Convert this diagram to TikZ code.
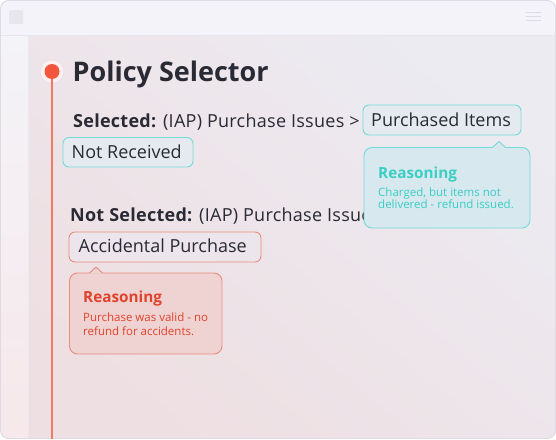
\documentclass[tikz,border=0pt]{standalone}
\usepackage{fontspec}
\setmainfont{Open Sans}
\usetikzlibrary{shadings}
\definecolor{frame}{HTML}{DCDBE6}
\definecolor{topbar}{HTML}{F4F3F9}
\definecolor{bodytop}{HTML}{ECEBF2}
\definecolor{bodybot}{HTML}{EEDFE2}
\definecolor{side}{HTML}{F4F3F8}
\definecolor{sidebot}{HTML}{F6E8EB}
\definecolor{ink}{HTML}{2A2A35}
\definecolor{dotred}{HTML}{F4553D}
\definecolor{tlred}{HTML}{F07A66}
\definecolor{tealb}{HTML}{74DAD8}
\definecolor{tealt}{HTML}{3ACEC5}
\definecolor{tealf}{HTML}{D7E8EE}
\definecolor{redb}{HTML}{E88B7C}
\definecolor{redt}{HTML}{E0432B}
\definecolor{redf}{HTML}{EFD3D3}
\tikzset{
  x=1pt,y=-1pt,
  txt/.style={anchor=base west,inner sep=0pt,text=ink,font=\fontsize{18}{20}\selectfont},
  pill/.style={rounded corners=6pt,line width=0.9pt,draw=#1,fill=#1!6!bodytop},
  tipbox/.style={rounded corners=8pt,line width=0.9pt},
  rtitle/.style={anchor=base west,inner sep=0pt,font=\fontsize{15.3}{18}\selectfont\bfseries},
  rbody/.style={anchor=base west,inner sep=0pt,font=\fontsize{11.5}{13}\selectfont,align=left},
}
\begin{document}
\begin{tikzpicture}
\useasboundingbox (0,0) rectangle (556,439);
\begin{scope}
\clip[rounded corners=8pt] (0.5,0.5) rectangle (555.5,438.5);
\fill[topbar] (0,0) rectangle (556,35);
\shade[shading=axis,top color=bodytop,bottom color=bodybot,shading angle=-40] (28,35) rectangle (556,439);
\shade[top color=side,bottom color=sidebot] (0,35) rectangle (28,439);
\draw[frame!70,line width=0.6pt] (0,35) -- (556,35);
\draw[frame!60,line width=0.5pt] (28,35) -- (28,439);
\end{scope}
\draw[frame,line width=0.9pt,rounded corners=8pt] (0.5,0.5) rectangle (555.5,438.5);
% top icons
\fill[frame!70,rounded corners=1.5pt] (9,10) rectangle (23,24);
\draw[frame,line width=1pt] (526,12) -- (541,12) (526,16) -- (541,16) (526,20) -- (541,20);
% timeline
\coordinate (lineend) at (52,439);
\coordinate (dotc) at (52,71.5);
\fill[dotred!9] (dotc) circle (11);
\draw[color=tlred,line width=2pt] (dotc) -- (lineend);
\node[circle,fill=dotred,inner sep=0pt,minimum size=15pt] (dot) at (dotc) {};
% title
\node[anchor=base west,inner sep=0pt,text=ink,font=\fontsize{27}{34}\selectfont\bfseries] (title) at (72.5,81) {Policy Selector};
% selected line
\node[txt] (sel) at (73,127) {\addfontfeature{LetterSpace=1.5}\textbf{Selected:} (IAP) Purchase Issues >};
\draw[pill=tealb] (363,105) rectangle (521,135);
\node[txt] (pi) at (371,126.5) {Purchased Items};
\draw[pill=tealb] (63,137.5) rectangle (193,167);
\node[txt] (nr) at (71.5,158.5) {Not Received};
% not selected line
\node[txt] (nsel) at (70,221) {\addfontfeature{LetterSpace=1.5}\textbf{Not Selected:} (IAP) Purchase Issues >};
\draw[pill=redb] (69,232) rectangle (261,262);
\node[txt] (ap) at (78.5,252.5) {Accidental Purchase};
% teal tooltip
\draw[tipbox,draw=tealb,fill=tealf] (364,147.5) rectangle (530,228);
\fill[tealf] (492.5,148.2) -- (499,141.5) -- (505.5,148.2) -- cycle;
\draw[tealb,line width=0.9pt,line join=round] (492.5,147.5) -- (499,141.5) -- (505.5,147.5);
\node[rtitle,text=tealt] (tr) at (378,178) {Reasoning};
\node[rbody,text=tealt] (tb1) at (378,196) {Charged, but items not};
\node[rbody,text=tealt] (tb2) at (378,208) {delivered - refund issued.};
% red tooltip
\draw[tipbox,draw=redb,fill=redf] (69.5,273) rectangle (222,354);
\fill[redf] (89.5,273.7) -- (96,267) -- (102.5,273.7) -- cycle;
\draw[redb,line width=0.9pt,line join=round] (89.5,273) -- (96,267) -- (102.5,273);
\node[rtitle,text=redt] (rr) at (83,302.5) {Reasoning};
\node[rbody,text=redt] (rb1) at (83,321.5) {Purchase was valid - no};
\node[rbody,text=redt] (rb2) at (83,335) {refund for accidents.};
\end{tikzpicture}
\end{document}
